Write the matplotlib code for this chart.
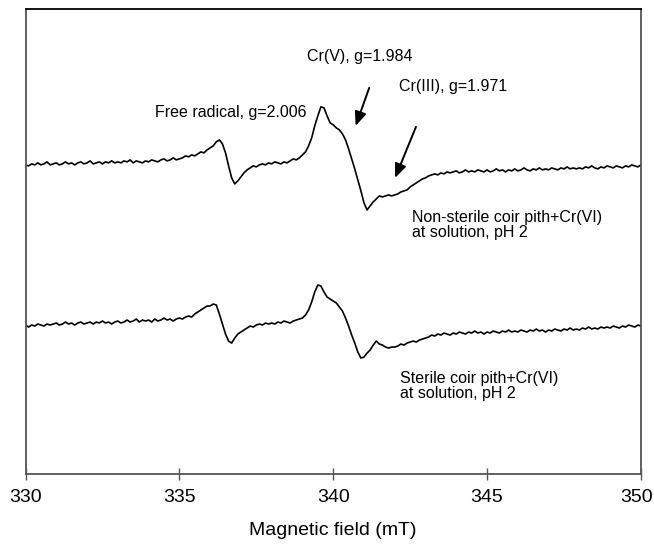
import numpy as np
import matplotlib
matplotlib.use("Agg")
import matplotlib.pyplot as plt
import matplotlib.transforms as mtransforms

plt.rcParams['font.family'] = ['Liberation Sans', 'DejaVu Sans']

# EPR spectra, intensity in arbitrary units, sampled every 0.1 mT from 330 to 350 mT
non_sterile = [
    309, 308, 310, 309, 311, 309, 310, 312, 309, 310,
    311, 309, 310, 312, 310, 311, 309, 311, 312, 310,
    311, 313, 310, 311, 312, 310, 312, 311, 313, 311,
    312, 311, 313, 312, 314, 311, 313, 312, 311, 313,
    312, 314, 313, 312, 314, 315, 313, 314, 316, 314,
    315, 316, 318, 317, 319, 318, 320, 322, 321, 324,
    326, 328, 332, 334, 330, 321, 308, 296, 290, 293,
    297, 301, 304, 306, 308, 307, 309, 310, 309, 311,
    310, 312, 311, 310, 312, 311, 313, 315, 314, 316,
    319, 322, 328, 336, 348, 358, 367, 366, 358, 351,
    349, 346, 344, 340, 334, 325, 315, 305, 294, 283,
    271, 264, 268, 272, 275, 278, 277, 278, 279, 278,
    279, 280, 282, 283, 284, 287, 289, 291, 293, 295,
    296, 298, 299, 300, 299, 301, 300, 302, 301, 302,
    303, 301, 302, 304, 302, 303, 302, 304, 303, 302,
    304, 302, 303, 305, 303, 304, 302, 304, 303, 305,
    303, 304, 306, 304, 303, 305, 304, 306, 304, 305,
    304, 306, 305, 304, 306, 305, 307, 305, 306, 305,
    306, 305, 307, 306, 308, 306, 305, 307, 306, 308,
    307, 306, 308, 307, 306, 308, 307, 309, 308, 307,
    309,
]
sterile = [
    149, 147, 149, 148, 150, 149, 148, 150, 149, 150,
    151, 149, 150, 152, 150, 151, 149, 151, 152, 150,
    151, 152, 150, 152, 151, 153, 151, 152, 150, 152,
    153, 151, 152, 154, 152, 153, 155, 152, 154, 153,
    154, 152, 155, 153, 154, 156, 154, 155, 153, 155,
    156, 155, 157, 158, 157, 160, 162, 164, 166, 168,
    168, 170, 169, 160, 150, 140, 133, 131, 136, 140,
    142, 144, 146, 148, 147, 149, 150, 149, 151, 150,
    151, 150, 152, 151, 153, 152, 151, 153, 154, 155,
    156, 159, 164, 172, 182, 189, 188, 182, 177, 175,
    173, 171, 167, 163, 156, 148, 139, 131, 122, 116,
    117, 121, 124, 129, 133, 130, 129, 127, 126, 127,
    127, 128, 130, 129, 131, 132, 133, 132, 134, 135,
    136, 137, 139, 138, 140, 139, 141, 140, 139, 141,
    140, 142, 141, 140, 142, 141, 143, 141, 142, 140,
    142, 141, 143, 142, 141, 143, 142, 144, 142, 143,
    142, 144, 143, 142, 144, 143, 145, 143, 144, 142,
    144, 143, 145, 144, 143, 145, 144, 146, 144, 145,
    144, 146, 145, 147, 145, 146, 145, 147, 146, 147,
    146, 148, 147, 146, 148, 147, 149, 148, 147, 149,
    148,
]
field = np.linspace(330.0, 350.0, len(non_sterile))

xticks = [330, 335, 340, 345, 350]

fig = plt.figure(figsize=(6.54, 5.45), dpi=100)
ax = fig.add_axes([0.039, 0.130, 0.941, 0.853])

ax.plot(field, non_sterile, color='black', lw=1.2)
ax.plot(field, sterile, color='black', lw=1.2)

ax.set_xlim(330, 350)
ax.set_ylim(0, 464.5)
ax.set_xticks(xticks)
ax.set_yticks([])
ax.tick_params(axis='x', direction='inout', length=8, width=1.0,
               labelsize=14, pad=7, color='#555555')
ax.set_xlabel('Magnetic field (mT)', fontsize=14, labelpad=11)

# keep the last tick label inside the figure
last = ax.get_xticklabels()[-1]
last.set_transform(last.get_transform() +
                   mtransforms.ScaledTranslation(-0.04, 0, fig.dpi_scale_trans))

for side in ['left', 'right', 'bottom']:
    ax.spines[side].set_color('#555555')
    ax.spines[side].set_linewidth(1.3)
ax.spines['top'].set_color('black')
ax.spines['top'].set_linewidth(1.3)

fs = 11.5
ax.text(334.21, 361, 'Free radical, g=2.006', fontsize=fs, va='center')
ax.text(339.15, 417, 'Cr(V), g=1.984', fontsize=fs, va='center')
ax.text(342.14, 387, 'Cr(III), g=1.971', fontsize=fs, va='center')
ax.text(342.57, 249, 'Non-sterile coir pith+Cr(VI)\nat solution, pH 2',
        fontsize=fs, va='center', linespacing=1.0)
ax.text(342.18, 88, 'Sterile coir pith+Cr(VI)\nat solution, pH 2',
        fontsize=fs, va='center', linespacing=1.0)

arrow = dict(arrowstyle='-|>,head_length=0.6,head_width=0.25', color='black',
             lw=1.4, mutation_scale=14, shrinkA=0, shrinkB=0)
ax.annotate('', xy=(340.73, 348), xytext=(341.17, 386), arrowprops=arrow)
ax.annotate('', xy=(342.01, 296), xytext=(342.69, 347), arrowprops=arrow)

fig.savefig('out.png', dpi=100)
